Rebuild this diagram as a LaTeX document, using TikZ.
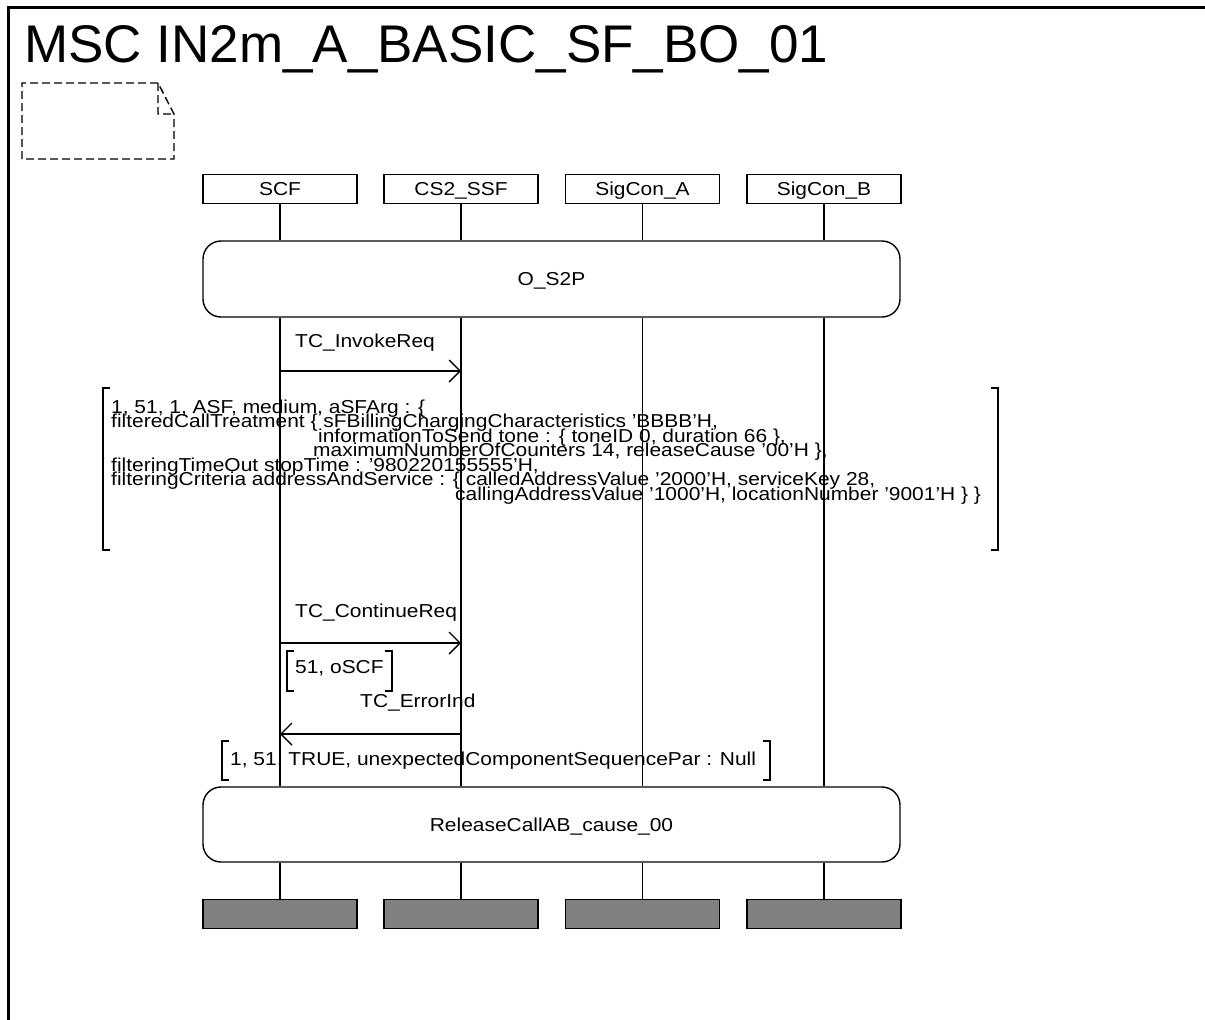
\documentclass[tikz,border=0pt]{standalone}
\usepackage{fontspec}
\setmainfont{Liberation Sans}
\newfontfamily\smfont[FakeStretch=1.12]{Liberation Sans}
\usetikzlibrary{arrows.meta}
\definecolor{endgray}{RGB}{128,128,128}
\begin{document}
\begin{tikzpicture}[x=1pt,y=-1pt,
  txt/.style={font=\smfont\fontsize{18.7}{14.5}\selectfont, inner sep=0pt, anchor=base west},
  head/.style={draw, line width=1.4pt, minimum width=154pt, minimum height=29pt, inner sep=0pt, text height=13.5pt, text depth=0pt, font=\smfont\fontsize{18.7}{22}\selectfont},
  cond/.style={draw, line width=1.4pt, rounded corners=18pt, minimum width=697pt, minimum height=76pt, inner sep=0pt, text height=13.5pt, text depth=0pt, font=\smfont\fontsize{18.7}{22}\selectfont},
  endbox/.style={draw, fill=endgray, line width=1.4pt, minimum width=154pt, minimum height=29pt, inner sep=0pt},
  life/.style={line width=1.4pt},
  msg/.style={line width=1.4pt, -{Straight Barb[length=11pt,width=22pt,line width=1.4pt]}},
  brk/.style={line width=1.4pt},
  note/.style={line width=1.4pt, dash pattern=on 8pt off 4pt}
]
\useasboundingbox (0,0) rectangle (1205,1020);
% frame
\draw[line width=2.2pt] (8.5,1020) -- (8.5,7.5) -- (1205,7.5);
\node[anchor=base west, inner sep=0pt, font=\fontsize{53}{60}\selectfont] (title) at (24,62) {MSC IN2m\_A\_BASIC\_SF\_BO\_01};
% note symbol
\draw[note] (158,83) -- (22,83) -- (22,159) -- (174,159) -- (174,114) -- (158,83) -- (158,114) -- (174,114);
% instance heads
\node[head] (h1) at (280,189) {SCF};
\node[head] (h2) at (461,189) {CS2\_SSF};
\node[head] (h3) at (642.5,189) {SigCon\_A};
\node[head] (h4) at (824,189) {SigCon\_B};
% conditions
\node[cond] (c1) at (551.5,279) {O\_S2P};
\node[cond, minimum height=75pt] (c2) at (551.5,824.5) {ReleaseCallAB\_cause\_00};
% end boxes
\node[endbox] (e1) at (280,914) {};
\node[endbox] (e2) at (461,914) {};
\node[endbox] (e3) at (642.5,914) {};
\node[endbox] (e4) at (824,914) {};
% lifelines
\foreach \i in {1,2,3,4}{
  \draw[life] (h\i.south) -- (h\i.south |- c1.north);
  \draw[life] (h\i.south |- c1.south) -- (h\i.south |- c2.north);
  \draw[life] (e\i.north |- c2.south) -- (e\i.north);
}
% TC_InvokeReq
\node[txt] (l1) at (295,347) {TC\_InvokeReq};
\coordinate (a1s) at (h1.south |- 0,371);
\coordinate (a1e) at (h2.south |- 0,371);
\draw[msg] (a1s) -- (a1e);
% parameter block
\draw[brk] (110,388) -- (103,388) -- (103,550) -- (110,550);
\draw[brk] (991,388) -- (998,388) -- (998,550) -- (991,550);
\node[txt] (p1) at (111,413) {1, 51, 1, ASF, medium, aSFArg : \{};
\node[txt] (p2) at (111,427.5) {filteredCallTreatment \{ sFBillingChargingCharacteristics ’BBBB’H,};
\node[txt] (p3) at (318,442) {informationToSend tone : \{ toneID 0, duration 66 \},};
\node[txt] (p4) at (313,456.5) {maximumNumberOfCounters 14, releaseCause ’00’H \},};
\node[txt] (p5) at (111,471) {filteringTimeOut stopTime : ’980220155555’H,};
\node[txt] (p6) at (111,485.5) {filteringCriteria addressAndService : \{ calledAddressValue ’2000’H, serviceKey 28,};
\node[txt] (p7) at (455,500) {callingAddressValue ’1000’H, locationNumber ’9001’H \} \}};
% TC_ContinueReq
\node[txt] (l2) at (295,617) {TC\_ContinueReq};
\coordinate (a2s) at (h1.south |- 0,643);
\coordinate (a2e) at (h2.south |- 0,643);
\draw[msg] (a2s) -- (a2e);
\draw[brk] (294,651) -- (287,651) -- (287,691) -- (294,691);
\draw[brk] (385,651) -- (392,651) -- (392,691) -- (385,691);
\node[txt] (p8) at (295,673) {51, oSCF};
% TC_ErrorInd
\node[txt] (l3) at (360,707) {TC\_ErrorInd};
\coordinate (a3s) at (h2.south |- 0,734);
\coordinate (a3e) at (h1.south |- 0,734);
\draw[msg] (a3s) -- (a3e);
\draw[brk] (229,741) -- (222,741) -- (222,780) -- (229,780);
\draw[brk] (763,741) -- (770,741) -- (770,780) -- (763,780);
\node[txt] (p9) at (230,765) {1, 51, TRUE, unexpectedComponentSequencePar : Null};
\end{tikzpicture}
\end{document}
